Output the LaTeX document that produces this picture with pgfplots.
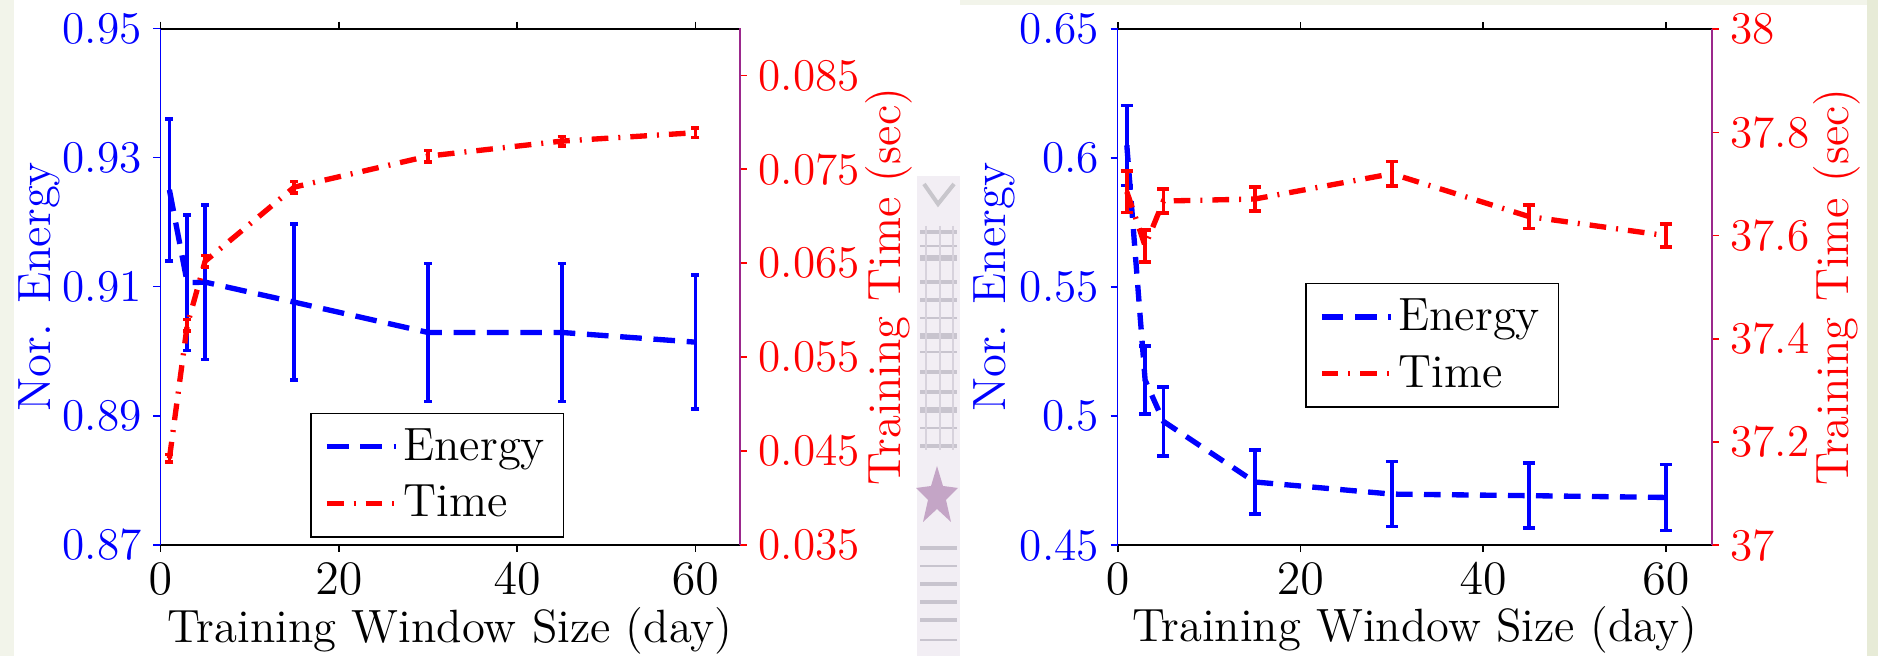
\documentclass[border=0pt]{standalone}
\usepackage{pgfplots}
\pgfplotsset{compat=1.18}

\definecolor{bgcream}{RGB}{242,244,234}
\definecolor{bggreen}{RGB}{231,235,215}
\definecolor{spine}{RGB}{155,40,140}
\definecolor{stripbg}{RGB}{242,238,244}
\definecolor{stripdark}{RGB}{200,196,206}
\definecolor{striplight}{RGB}{215,210,220}
\definecolor{stripchev}{RGB}{200,198,204}
\definecolor{stripstar}{RGB}{196,165,198}

% Normalised energy and training time against training window size (days)
\pgfplotstableread{
x y e
1  0.9250 0.0110
3  0.9106 0.0105
5  0.9107 0.0120
15 0.9076 0.0121
30 0.9029 0.0107
45 0.9029 0.0107
60 0.9014 0.0104
}\LeftEnergy
\pgfplotstableread{
x y e
1  0.0442 0.0004
3  0.0584 0.0006
5  0.0652 0.0006
15 0.0731 0.0006
30 0.0764 0.0006
45 0.0780 0.0005
60 0.0789 0.0005
}\LeftTime
\pgfplotstableread{
x y e
1  0.6050 0.0155
3  0.5140 0.0132
5  0.4980 0.0133
15 0.4745 0.0125
30 0.4698 0.0126
45 0.4692 0.0126
60 0.4685 0.0128
}\RightEnergy
\pgfplotstableread{
x y e
1  37.685 0.040
3  37.580 0.031
5  37.667 0.023
15 37.671 0.023
30 37.720 0.024
45 37.637 0.023
60 37.600 0.022
}\RightTime

\pgfplotsset{
  energy line/.style={blue, line width=1.6pt, dash pattern=on 6.5pt off 3.5pt},
  time line/.style={red, line width=1.6pt, dash pattern=on 5pt off 3pt on 0.6pt off 3pt},
  energy/.style={energy line, mark=none,
    error bars/y dir=both, error bars/y explicit, error bars/error mark=|,
    error bars/error bar style={solid, line width=1.1pt},
    error bars/error mark options={solid, blue, line width=1.1pt, mark size=#1}},
  energy/.default=1.3pt,
  time/.style={time line, mark=none,
    error bars/y dir=both, error bars/y explicit, error bars/error mark=|,
    error bars/error bar style={solid, line width=1.1pt},
    error bars/error mark options={solid, red, line width=1.1pt, mark size=#1}},
  time/.default=1.3pt,
  twin/.style={scale only axis, anchor=south west,
    xmin=0, xmax=65, scaled y ticks=false, scaled x ticks=false,
    tick align=outside, major tick length=2.1pt,
    every tick label/.append style={font=\fontsize{13.6}{16}\selectfont},
    label style={font=\fontsize{14}{17}\selectfont}},
  left side/.style={twin,
    axis x line*=box, axis y line*=left,
    x axis line style={black, line width=0.6pt, -},
    y axis line style={blue, line width=0.4pt, -},
    xtick={0,20,40,60},
    x tick style={black, line width=0.5pt},
    y tick style={blue, line width=0.5pt},
    yticklabel style={blue},
    ylabel={Nor. Energy},
    xlabel={Training Window Size (day)},
    xlabel style={at={(axis description cs:0.5,-0.189)}, anchor=base, black}},
  right side/.style={twin,
    axis x line=none, xtick=\empty,
    axis y line*=right,
    y axis line style={spine, line width=0.6pt, -},
    ytick pos=right, yticklabel pos=right,
    y tick style={red, line width=0.5pt},
    yticklabel style={red},
    ylabel={Training Time (sec)},
    legend image code/.code={\draw[#1] (0pt,0pt) -- (20.7pt,0pt);},
    legend style={anchor=south west, draw=black, line width=0.5pt, fill=white,
      font=\fontsize{14}{17}\selectfont, text=black,
      inner xsep=4pt, inner ysep=3pt, row sep=3pt,
      nodes={inner sep=1.5pt}},
    legend cell align=left},
}

\begin{document}
\begin{tikzpicture}
\useasboundingbox (0,0) rectangle (563.4pt,196.8pt);

% page background and the narrow strip between the panels
\begin{scope}[yshift=196.8pt, x=0.3pt, y=-0.3pt]
  \fill[bgcream] (0,0) rectangle (1878,656);
  \fill[white] (14,5) rectangle (1867,656);
  \fill[bggreen] (1867,0) rectangle (1878,656);
  \fill[white] (14,0) rectangle (960,5);
  \fill[stripbg] (917,176) rectangle (960,656);
  \draw[stripchev, line width=1.2pt] (924,184) -- (938,204) -- (954,184);
  \foreach \yy/\ww in {232/1.4,246/0.8,258/1.6,282/1.0,300/1.3,318/0.8,336/1.8,352/0.8,372/1.3,392/1.0,410/1.6,428/0.8,446/1.2,548/1.3,566/0.8,584/1.4,602/1.0,620/1.3,640/0.8}
    \draw[stripdark, line width=\ww pt] (920,\yy) -- (957,\yy);
  \foreach \xx in {926,940,953}
    \draw[striplight, line width=0.8pt] (\xx,226) -- (\xx,450);
  \fill[stripstar] (937,466) -- (943,486) -- (958,488) -- (946,500) -- (951,522) -- (937,509) -- (923,522) -- (928,500) -- (916,488) -- (931,486) -- cycle;
\end{scope}

% ---------- left panel ----------
\begin{axis}[left side,
  at={(48.15pt,33.36pt)}, width=173.85pt, height=154.89pt,
  ymin=0.87, ymax=0.95,
  ytick={0.87,0.89,0.91,0.93,0.95},
  yticklabels={0.87,0.89,0.91,0.93,0.95},
  ylabel style={at={(axis description cs:-0.2097,0.5)}, anchor=center, blue}]
\addplot[energy=1.2pt] table[x=x, y=y, y error=e] {\LeftEnergy};
\end{axis}
\begin{axis}[right side,
  at={(48.15pt,33.36pt)}, width=173.85pt, height=154.89pt,
  ymin=0.035, ymax=0.09,
  ytick={0.035,0.045,0.055,0.065,0.075,0.085},
  yticklabels={0.035,0.045,0.055,0.065,0.075,0.085},
  ylabel style={at={(axis description cs:1.257,0.5)}, anchor=center, red},
  legend style={at={(0.258,0.0139)}}]
\addlegendimage{energy line}
\addlegendentry{Energy}
\addplot[time=1.2pt] table[x=x, y=y, y error=e] {\LeftTime};
\addlegendentry{Time}
\end{axis}

% ---------- right panel ----------
\begin{axis}[left side,
  at={(335.31pt,33.24pt)}, width=178.2pt, height=154.77pt,
  ymin=0.45, ymax=0.65,
  ytick={0.45,0.5,0.55,0.6,0.65},
  yticklabels={0.45,0.5,0.55,0.6,0.65},
  ylabel style={at={(axis description cs:-0.2083,0.5)}, anchor=center, blue},
  xlabel style={at={(axis description cs:0.5,-0.1876)}}]
\addplot[energy=1.8pt, dash pattern=on 5pt off 3.4pt] table[x=x, y=y, y error=e] {\RightEnergy};
\end{axis}
\begin{axis}[right side,
  at={(335.31pt,33.24pt)}, width=178.2pt, height=154.77pt,
  ymin=37, ymax=38,
  ytick={37,37.2,37.4,37.6,37.8,38},
  yticklabels={37,37.2,37.4,37.6,37.8,38},
  ylabel style={at={(axis description cs:1.211,0.5)}, anchor=center, red},
  legend style={at={(0.3153,0.2661)}}]
\addlegendimage{energy line}
\addlegendentry{Energy}
\addplot[time=1.8pt] table[x=x, y=y, y error=e] {\RightTime};
\addlegendentry{Time}
\end{axis}
\end{tikzpicture}
\end{document}
